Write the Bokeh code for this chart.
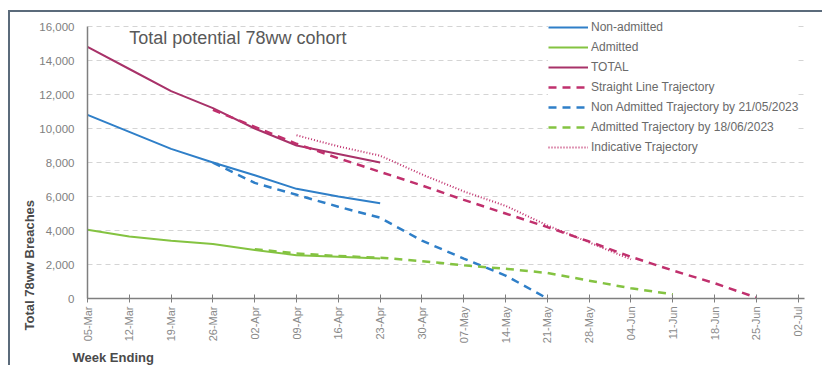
import numpy as np
from bokeh.plotting import figure
from bokeh.models import (ColumnDataSource, FixedTicker, Legend, LegendItem, Label,
                          Title, Range1d)
from bokeh.embed import file_html
from bokeh.resources import INLINE

weeks = ["05-Mar", "12-Mar", "19-Mar", "26-Mar", "02-Apr", "09-Apr", "16-Apr", "23-Apr",
         "30-Apr", "07-May", "14-May", "21-May", "28-May", "04-Jun", "11-Jun", "18-Jun",
         "25-Jun", "02-Jul"]
N = None
non_admitted = [10800, 9800, 8800, 8000, 7250, 6450, 6000, 5600, N, N, N, N, N, N, N, N, N, N]
admitted = [4050, 3650, 3400, 3200, 2850, 2550, 2450, 2350, N, N, N, N, N, N, N, N, N, N]
total = [14800, 13500, 12200, 11200, 10000, 9000, 8500, 8000, N, N, N, N, N, N, N, N, N, N]
straight_traj = [N, N, N, 11100, 10100, 9100, 8250, 7450, 6650, 5800, 5000, 4200, 3350,
                 2450, 1650, 900, 50, N]
non_adm_traj = [N, N, N, 8000, 6800, 6100, 5400, 4750, 3400, 2350, 1350, 0, N, N, N, N, N, N]
adm_traj = [N, N, N, N, 2900, 2650, 2500, 2400, 2200, 1950, 1750, 1500, 1050, 600, 250,
            N, N, N]
indicative = [N, N, N, N, N, 9600, 8950, 8400, 7300, 6300, 5450, 4300, 3300, 2300, N, N, N, N]
y_ticks = list(range(0, 16001, 2000))

x = list(range(len(weeks)))
def arr(v):
    return np.array([np.nan if a is None else a for a in v], dtype=float)

src = ColumnDataSource(dict(x=x, na=arr(non_admitted), ad=arr(admitted), tot=arr(total),
                            st=arr(straight_traj), nat=arr(non_adm_traj), adt=arr(adm_traj),
                            ind=arr(indicative)))

FONT = "Liberation Sans"
BLUE = "#2f7fc8"
GREEN = "#84c341"
MAG = "#a83269"
MAG2 = "#c0306d"

p = figure(width=814, height=355, output_backend="svg", toolbar_location=None,
           x_range=Range1d(0, 17.15), y_range=Range1d(0, 16824),
           min_border_left=77, min_border_right=20, min_border_top=0, min_border_bottom=69)
p.margin = (10, 0, 0, 8)
p.styles = {"border-top": "2px solid #5b6b7b", "border-left": "2px solid #5b6b7b"}
p.background_fill_color = "white"
p.border_fill_color = "white"
p.outline_line_color = None

r_na = p.line("x", "na", source=src, color=BLUE, line_width=2)
r_ad = p.line("x", "ad", source=src, color=GREEN, line_width=2)
r_tot = p.line("x", "tot", source=src, color=MAG, line_width=2)
r_st = p.line("x", "st", source=src, color=MAG2, line_width=2.5, line_dash="8 6")
r_nat = p.line("x", "nat", source=src, color=BLUE, line_width=2.5, line_dash="8 6")
r_adt = p.line("x", "adt", source=src, color=GREEN, line_width=2.5, line_dash="8 6")
r_ind = p.line("x", "ind", source=src, color=MAG2, line_width=2, line_dash="1 2")

# axes
p.xaxis.ticker = FixedTicker(ticks=x)
p.xaxis.major_label_overrides = {i: w for i, w in enumerate(weeks)}
p.xaxis.major_label_orientation = np.pi / 2
p.xaxis.major_label_text_font = FONT
p.xaxis.major_label_text_font_size = "11px"
p.xaxis.major_label_text_color = "#8a8a8a"
p.xaxis.axis_line_color = "#7f7f7f"
p.xaxis.axis_line_width = 1.5
p.xaxis.major_tick_line_color = "#7f7f7f"
p.xaxis.major_tick_in = 4
p.xaxis.major_tick_out = 4
p.xaxis.minor_tick_line_color = None
p.xaxis.major_label_standoff = 4

p.yaxis.ticker = FixedTicker(ticks=y_ticks)
p.yaxis.bounds = (0, 16000)
p.yaxis.major_label_overrides = {v: f"{v:,}" for v in y_ticks}
p.yaxis.major_label_text_font = FONT
p.yaxis.major_label_text_font_size = "11.5px"
p.yaxis.major_label_text_color = "#808080"
p.yaxis.axis_line_color = "#7f7f7f"
p.yaxis.axis_line_width = 1.5
p.yaxis.major_tick_line_color = None
p.yaxis.minor_tick_line_color = None
p.yaxis.major_label_standoff = 7

p.xgrid.grid_line_color = None
p.ygrid.grid_line_color = "#d4d4d4"
p.ygrid.grid_line_dash = "5 4"
p.ygrid.grid_line_width = 1

legend = Legend(items=[
    LegendItem(label="Non-admitted", renderers=[r_na]),
    LegendItem(label="Admitted", renderers=[r_ad]),
    LegendItem(label="TOTAL", renderers=[r_tot]),
    LegendItem(label="Straight Line Trajectory", renderers=[r_st]),
    LegendItem(label="Non Admitted Trajectory by 21/05/2023", renderers=[r_nat]),
    LegendItem(label="Admitted Trajectory by 18/06/2023", renderers=[r_adt]),
    LegendItem(label="Indicative Trajectory", renderers=[r_ind]),
], location=(461, 141))
legend.label_text_font = FONT
legend.label_text_font_size = "12px"
legend.label_text_color = "#6a6a6a"
legend.glyph_width = 40
legend.glyph_height = 20
legend.label_height = 20
legend.spacing = 0
legend.padding = 4
legend.label_standoff = 3
legend.background_fill_color = "white"
legend.background_fill_alpha = 1
legend.border_line_color = None
p.add_layout(legend)

p.add_layout(Label(x=1.0, y=15350, text="Total potential 78ww cohort", text_font=FONT,
                   text_font_size="18px", text_color="#595959", text_baseline="middle"))

p.add_layout(Title(text="Week Ending", align="left", offset=-15, text_font=FONT,
                   text_font_size="13px", text_font_style="bold", text_color="#4a4a4a",
                   standoff=3), "below")
p.add_layout(Title(text="Total 78ww Breaches", align="left", offset=-32, text_font=FONT,
                   text_font_size="13px", text_font_style="bold", text_color="#4a4a4a",
                   standoff=0), "left")

open("out.html", "w").write(file_html(p, INLINE))
